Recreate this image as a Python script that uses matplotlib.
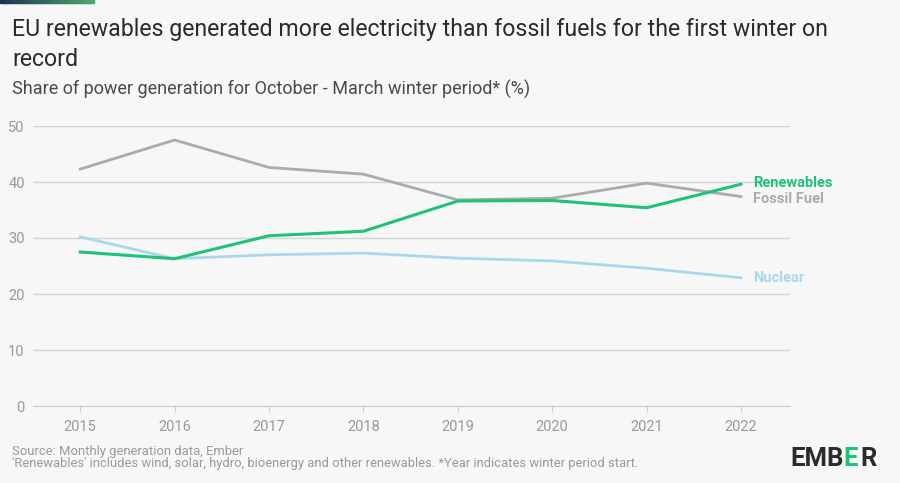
import numpy as np
import matplotlib.pyplot as plt
from matplotlib.patches import Rectangle

years = [2015, 2016, 2017, 2018, 2019, 2020, 2021, 2022]
fossil = [42.3, 47.5, 42.6, 41.4, 36.8, 37.1, 39.8, 37.4]
renewables = [27.5, 26.3, 30.4, 31.2, 36.6, 36.7, 35.4, 39.6]
nuclear = [30.2, 26.3, 27.0, 27.3, 26.4, 25.9, 24.6, 22.9]
yticks = [0, 10, 20, 30, 40, 50]

plt.rcParams['font.family'] = ['Roboto', 'DejaVu Sans']
bg = '#f7f7f7'
green = '#1ec27a'
grey = '#ababab'
blue = '#a9d8ee'

fig = plt.figure(figsize=(9, 4.83), dpi=100, facecolor=bg)
ax = fig.add_axes([33/900, 77/483, 757/900, 280/483], facecolor=bg)

# top accent bar
for i, c in enumerate(np.linspace(0, 1, 30)):
    col = (0.1 + 0.2*c, 0.2 + 0.45*c, 0.3 + 0.15*c)
    fig.patches.append(Rectangle((i*93/30/900, 480/483), 93/30/900 + 0.001, 3/483,
                                 transform=fig.transFigure, color=col, zorder=5))

ax.plot(years, fossil, color=grey, lw=2)
ax.plot(years, nuclear, color=blue, lw=2)
ax.plot(years, renewables, color=green, lw=2.2)

ax.set_xlim(2014.5, 2022.52)
ax.set_ylim(0, 50)
ax.set_yticks(yticks)
ax.set_xticks(years)
ax.grid(axis='y', color='#d3d3d3', lw=1)
ax.set_axisbelow(True)
for s in ['top', 'right', 'left']:
    ax.spines[s].set_visible(False)
ax.spines['bottom'].set_color('#cfcfcf')
ax.tick_params(axis='y', length=0, pad=6, labelsize=10.5, labelcolor='#999999')
ax.tick_params(axis='x', length=4, color='#cfcfcf', pad=6, labelsize=10.5, labelcolor='#999999')

ax.annotate('Renewables', (years[-1], renewables[-1]), xytext=(9, 1), textcoords='offset points',
            color=green, fontsize=10.5, fontweight='bold', va='center')
ax.annotate('Fossil Fuel', (years[-1], fossil[-1]), xytext=(9, -1.5), textcoords='offset points',
            color=grey, fontsize=10.5, fontweight='bold', va='center')
ax.annotate('Nuclear', (years[-1], nuclear[-1]), xytext=(9, 0), textcoords='offset points',
            color=blue, fontsize=10.5, fontweight='bold', va='center')

fig.text(12/900, 1 - 18/483, 'EU renewables generated more electricity than fossil fuels for the first winter on\nrecord',
         fontsize=16.7, color='#2b2b2b', va='top', linespacing=1.38)
fig.text(12/900, 1 - 89/483, 'Share of power generation for October - March winter period* (%)',
         fontsize=13, color='#4a4a4a', va='center')
fig.text(12/900, 1 - 451/483, 'Source: Monthly generation data, Ember',
         fontsize=9.4, color='#9a9a9a', va='center')
fig.text(12/900, 1 - 464/483, "'Renewables' includes wind, solar, hydro, bioenergy and other renewables. *Year indicates winter period start.",
         fontsize=9.4, color='#9a9a9a', va='center')

# logo
fig.text(790/900, 1 - 459/483, 'EMB', fontsize=18.5, fontweight='bold', color='#2b2b2b', va='center')
fig.text(843/900, 1 - 459/483, 'E', fontsize=18.5, fontweight='bold', color=green, va='center')
fig.text(860/900, 1 - 459/483, 'R', fontsize=18.5, fontweight='bold', color='#2b2b2b', va='center')

fig.savefig('out.png', dpi=100, facecolor=bg)
